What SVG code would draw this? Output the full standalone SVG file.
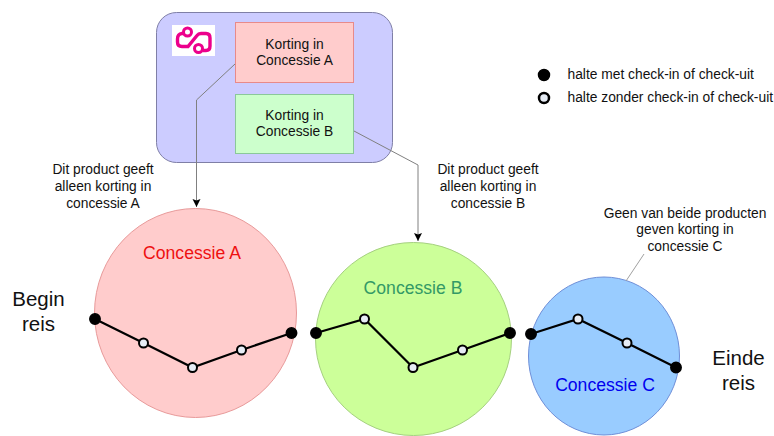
<svg xmlns="http://www.w3.org/2000/svg" width="774" height="436" viewBox="0 0 774 436">
<style>
text{font-family:"Liberation Sans",Arial,sans-serif;fill:#111;text-anchor:middle}
.s{font-size:13.800px}
.m{font-size:17.600px}
.l{font-size:20.500px}
.k{fill:#000;stroke:#000;stroke-width:1.500}
.w{fill:#e6ecf5;stroke:#000;stroke-width:2}
.r{fill:none;stroke:#000;stroke-width:2.200}
.c{fill:none;stroke:#808080;stroke-width:1}
</style>
<defs><marker id="a" markerWidth="9" markerHeight="9" refX="8" refY="4" orient="auto" markerUnits="userSpaceOnUse"><path d="M0 0L8 4L0 8L1.500 4Z" fill="#000"/></marker></defs>
<g id="product">
<rect x="156.500" y="12.500" width="236" height="150" rx="20" fill="#ccccff" stroke="#7f7fa6"/>
<rect x="172" y="25" width="43" height="31" fill="#fff"/>
<path d="M184 33.500H182Q177.500 34 177.500 39V42Q177.500 46.500 182 46.500H188L197 35.500Q198.500 33.500 201 33.500H206Q210 33.500 210 38V46Q210 50.500 206 50.500H203" fill="none" stroke="#ec008c" stroke-width="3.400"/>
<circle cx="187.500" cy="32" r="4" fill="#fff" stroke="#ec008c" stroke-width="3"/>
<circle cx="198.500" cy="48.500" r="4" fill="#fff" stroke="#ec008c" stroke-width="3"/>
</g>
<g id="korting-a">
<rect x="235.500" y="22.500" width="118" height="60" fill="#ffcccc" stroke="#e88a8a"/>
<text class="s" x="294.500" y="49">Korting in</text>
<text class="s" x="294.500" y="65">Concessie A</text>
</g>
<g id="korting-b">
<rect x="235.500" y="94.500" width="118" height="59" fill="#ccffcc" stroke="#8ac89a"/>
<text class="s" x="294.500" y="120">Korting in</text>
<text class="s" x="294.500" y="136">Concessie B</text>
</g>
<g id="concessie-a">
<ellipse cx="195.500" cy="313" rx="101" ry="104.500" fill="#ffcccc" stroke="#e89a9a"/>
<text class="m" x="192" y="258.500" style="fill:#ee1111">Concessie A</text>
</g>
<g id="concessie-b">
<ellipse cx="413.500" cy="339" rx="98" ry="96.500" fill="#ccff99" stroke="#a5d080"/>
<text class="m" x="413" y="293.500" style="fill:#339966">Concessie B</text>
</g>
<g id="concessie-c">
<ellipse cx="604" cy="356" rx="75.500" ry="79" fill="#99ccff" stroke="#6f8fd8"/>
<text class="m" x="605" y="390.500" style="fill:#0000ee">Concessie C</text>
</g>
<g id="connectors">
<path class="c" d="M235 64L196.500 100V207" marker-end="url(#a)"/>
<path class="c" d="M354 131L418 165V241" marker-end="url(#a)"/>
<path class="c" d="M644 254L626 281" style="stroke:#a0a0a0"/>
<path class="r" d="M95 319L143.500 343L192.500 367.500L241.500 350L291.500 333"/>
<path class="r" d="M316 333L364.500 319L413 367.500L462.500 350L510 333"/>
<path class="r" d="M531 334L578 319L627 343L676 367.500"/>
</g>
<g id="stops">
<circle class="k" cx="95" cy="319" r="5.200"/><circle class="w" cx="143.500" cy="343" r="4.500"/><circle class="w" cx="192.500" cy="367.500" r="4.500"/><circle class="w" cx="241.500" cy="350" r="4.500"/><circle class="k" cx="291.500" cy="333" r="5.200"/>
<circle class="k" cx="316" cy="333" r="5.200"/><circle class="w" cx="364.500" cy="319" r="4.500"/><circle class="w" cx="413" cy="367.500" r="4.500"/><circle class="w" cx="462.500" cy="350" r="4.500"/><circle class="k" cx="510" cy="333" r="5.200"/>
<circle class="k" cx="531" cy="334" r="5.200"/><circle class="w" cx="578" cy="319" r="4.500"/><circle class="w" cx="627" cy="343" r="4.500"/><circle class="k" cx="676" cy="367.500" r="5.200"/>
</g>
<g id="labels">
<text class="s" x="103" y="174">Dit product geeft</text>
<text class="s" x="103" y="191">alleen korting in</text>
<text class="s" x="103" y="207.500">concessie A</text>
<text class="s" x="488" y="174">Dit product geeft</text>
<text class="s" x="488" y="191">alleen korting in</text>
<text class="s" x="488" y="207.500">concessie B</text>
<text class="s" x="685" y="217.500">Geen van beide producten</text>
<text class="s" x="685" y="234">geven korting in</text>
<text class="s" x="685" y="250.500">concessie C</text>
<text class="l" x="38.500" y="306">Begin</text>
<text class="l" x="38.500" y="331">reis</text>
<text class="l" x="738.500" y="364.500">Einde</text>
<text class="l" x="738.500" y="389.500">reis</text>
</g>
<g id="legend">
<circle class="k" cx="544" cy="75" r="5.500"/>
<text class="s" x="567.500" y="78.500" style="text-anchor:start">halte met check-in of check-uit</text>
<circle class="w" cx="544" cy="98" r="5" style="stroke-width:2.500"/>
<text class="s" x="567.500" y="102" style="text-anchor:start">halte zonder check-in of check-uit</text>
</g>
</svg>
